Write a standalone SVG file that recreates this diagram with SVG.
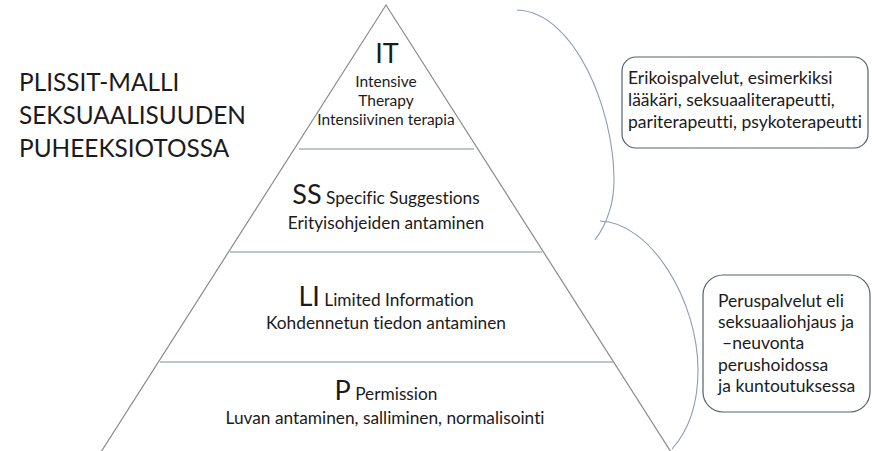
<svg xmlns="http://www.w3.org/2000/svg" width="872" height="451" viewBox="0 0 872 451">
<style>
text{font-family:Lato,"Liberation Sans",sans-serif;fill:#1b1b1b;font-variant-ligatures:none}
.title{font-size:24.4px}
.big{font-size:27px}
.sm{font-size:17.3px}
.bx{font-size:17.5px}
.xs{font-size:15.5px}
.c{text-anchor:middle}
.edge{fill:none;stroke:#8a8a8a;stroke-width:1.2}
.div{stroke:#a7b3bd;stroke-width:1.3}
.box{fill:#fff;stroke:#56606c;stroke-width:1.2}
.arc{fill:none;stroke:#8f9bb4;stroke-width:1.1}
</style>
<rect width="872" height="451" fill="#fff"/>
<g id="title">
<text class="title" x="19" y="91">PLISSIT-MALLI</text>
<text class="title" x="19" y="124">SEKSUAALISUUDEN</text>
<text class="title" x="19" y="157">PUHEEKSIOTOSSA</text>
</g>
<g id="pyramid">
<polyline class="edge" points="101,452 386,5 671,452"/>
<line class="div" x1="299" y1="149" x2="474" y2="149"/>
<line class="div" x1="230" y1="252" x2="542" y2="252"/>
<line class="div" x1="160" y1="362" x2="613" y2="362"/>
</g>
<g id="level-IT">
<text class="big c" x="387" y="63">IT</text>
<text class="xs c" x="386" y="87">Intensive</text>
<text class="xs c" x="386" y="106">Therapy</text>
<text class="xs c" x="386" y="125">Intensiivinen terapia</text>
</g>
<g id="level-SS">
<text class="c" x="386" y="204"><tspan class="big">SS</tspan><tspan class="sm"> Specific Suggestions</tspan></text>
<text class="sm c" x="386" y="229">Erityisohjeiden antaminen</text>
</g>
<g id="level-LI">
<text class="c" x="386" y="306"><tspan class="big">LI</tspan><tspan class="sm"> Limited Information</tspan></text>
<text class="sm c" x="386" y="329">Kohdennetun tiedon antaminen</text>
</g>
<g id="level-P">
<text class="c" x="386" y="400"><tspan class="big">P</tspan><tspan class="sm"> Permission</tspan></text>
<text class="sm c" x="385" y="424">Luvan antaminen, salliminen, normalisointi</text>
</g>
<g id="connectors">
<path class="arc" d="M517,10 C575,12 614,110 614,180 C614,205 606,225 595,240"/>
<path class="arc" d="M600,221 C650,222 698,300 698,370 C698,405 689,430 672,449"/>
</g>
<g id="box-specialist">
<rect class="box" x="622" y="57" width="246" height="91" rx="14"/>
<text class="bx" x="628" y="84">Erikoispalvelut, esimerkiksi</text>
<text class="bx" x="628" y="106">lääkäri, seksuaaliterapeutti,</text>
<text class="bx" x="628" y="128">pariterapeutti, psykoterapeutti</text>
</g>
<g id="box-basic">
<rect class="box" x="703" y="275" width="167" height="137" rx="20"/>
<text class="bx" x="718" y="307">Peruspalvelut eli</text>
<text class="bx" x="718" y="328">seksuaaliohjaus ja</text>
<text class="bx" x="722" y="349">–neuvonta</text>
<text class="bx" x="718" y="371">perushoidossa</text>
<text class="bx" x="718" y="392">ja kuntoutuksessa</text>
</g>
</svg>
